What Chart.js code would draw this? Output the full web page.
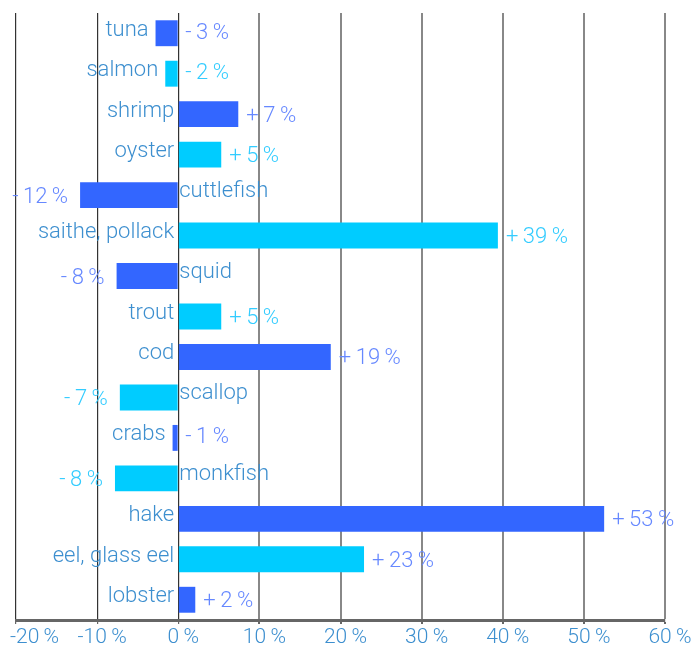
<!DOCTYPE html>
<html>
<head>
<meta charset="utf-8">
<script src="https://cdn.jsdelivr.net/npm/chart.js@4/dist/chart.umd.min.js"></script>
<style>
  html, body { margin: 0; padding: 0; background: #fff; }
  #cadre { width: 693px; height: 649px; }
</style>
</head>
<body>
<div id="cadre"><canvas id="graphe"></canvas></div>
<script>
// données
const especes = ["tuna", "salmon", "shrimp", "oyster", "cuttlefish", "saithe, pollack", "squid", "trout", "cod", "scallop", "crabs", "monkfish", "hake", "eel, glass eel", "lobster"]
const variations = [-2.8, -1.6, 7.4, 5.3, -12.1, 39.4, -7.6, 5.3, 18.8, -7.2, -0.7, -7.8, 52.5, 22.9, 2.1]
const graduations = [-20, -10, 0, 10, 20, 30, 40, 50, 60]

// couleurs
const bleu = "#3366ff"
const cyan = "#00ccff"
const couleursBarres = especes.map((e, i) => i % 2 == 0 ? bleu : cyan)
const couleursValeurs = especes.map((e, i) => i % 2 == 0 ? "#6688ff" : "#33ccff")
couleursValeurs[13] = "#6688ff"
const couleurTexte = "#3d8fcf"
const police = "Roboto, 'DejaVu Sans', sans-serif"
const fin = "\u2009"

//fonction de formatage des valeurs
const texteValeur = (v) => {
  let r = Math.round(v)
  return (r < 0 ? "-" : "+") + fin + Math.abs(r) + fin + "%"
}

// plugin pour écrire les noms et les valeurs près des barres
const etiquettes = {
  id: "etiquettes",
  afterDatasetsDraw(chart) {
    const ctx = chart.ctx
    const barres = chart.getDatasetMeta(0).data
    const axeX = chart.scales.x
    const zero = axeX.getPixelForValue(0)
    ctx.save()
    ctx.font = "300 22px " + police
    ctx.textBaseline = "middle"
    for (let i = 0; i < barres.length; i++) {
      let b = barres[i]
      let v = variations[i]
      // nom de l'espèce
      ctx.fillStyle = couleurTexte
      if (v >= 0) {
        ctx.textAlign = "right"
        ctx.fillText(especes[i], zero - 4, b.y - 3)
      } else if (v > -4) {
        ctx.textAlign = "right"
        ctx.fillText(especes[i], b.x - 7, b.y - 3)
      } else {
        ctx.textAlign = "left"
        ctx.fillText(especes[i], zero + 1, b.y - 4)
      }
      // valeur
      ctx.fillStyle = couleursValeurs[i]
      if (v >= 0) {
        ctx.textAlign = "left"
        ctx.fillText(texteValeur(v), b.x + 8, b.y + 2)
      } else if (v > -4) {
        ctx.textAlign = "left"
        ctx.fillText(texteValeur(v), zero + 7, b.y)
      } else {
        ctx.textAlign = "right"
        ctx.fillText(texteValeur(v), b.x - 12, b.y + 2)
      }
    }
    // graduations de l'axe x, décalées un peu à droite comme sur l'original
    ctx.font = "300 21px " + police
    ctx.fillStyle = couleurTexte
    ctx.textAlign = "left"
    for (let g of graduations) {
      let txt = g + fin + "%"
      let w = ctx.measureText(txt).width
      let x = axeX.getPixelForValue(g) + 5 - w / 2
      if (x < 10) x = 10
      if (x + w > chart.width) x = chart.width - w
      ctx.fillText(txt, x, axeX.bottom - 11)
    }
    ctx.restore()
  }
}

const graphe = new Chart(document.getElementById("graphe"), {
  type: "bar",
  data: {
    labels: especes,
    datasets: [{
      data: variations,
      backgroundColor: couleursBarres,
      categoryPercentage: 1,
      barPercentage: 0.64
    }]
  },
  options: {
    indexAxis: "y",
    responsive: true,
    maintainAspectRatio: false,
    animation: false,
    layout: { padding: { top: 13, left: 16, right: 28, bottom: 0 } },
    plugins: { legend: { display: false }, tooltip: { enabled: false } },
    scales: {
      x: {
        min: -20,
        max: 60,
        afterBuildTicks: (axe) => { axe.ticks = graduations.map(g => ({ value: g })) },
        afterFit: (axe) => { axe.paddingLeft = 0; axe.paddingRight = 0; axe.height = 29 },
        ticks: { display: false },
        grid: {
          color: (c) => c.index <= 2 ? "#333333" : "#888888",
          lineWidth: (c) => c.index <= 2 ? 1.2 : 2,
          drawTicks: true,
          tickLength: 4,
          tickColor: "#666666"
        },
        border: { display: true, color: "#666666", width: 3 }
      },
      y: { display: false }
    }
  },
  plugins: [etiquettes]
})
</script>
</body>
</html>
